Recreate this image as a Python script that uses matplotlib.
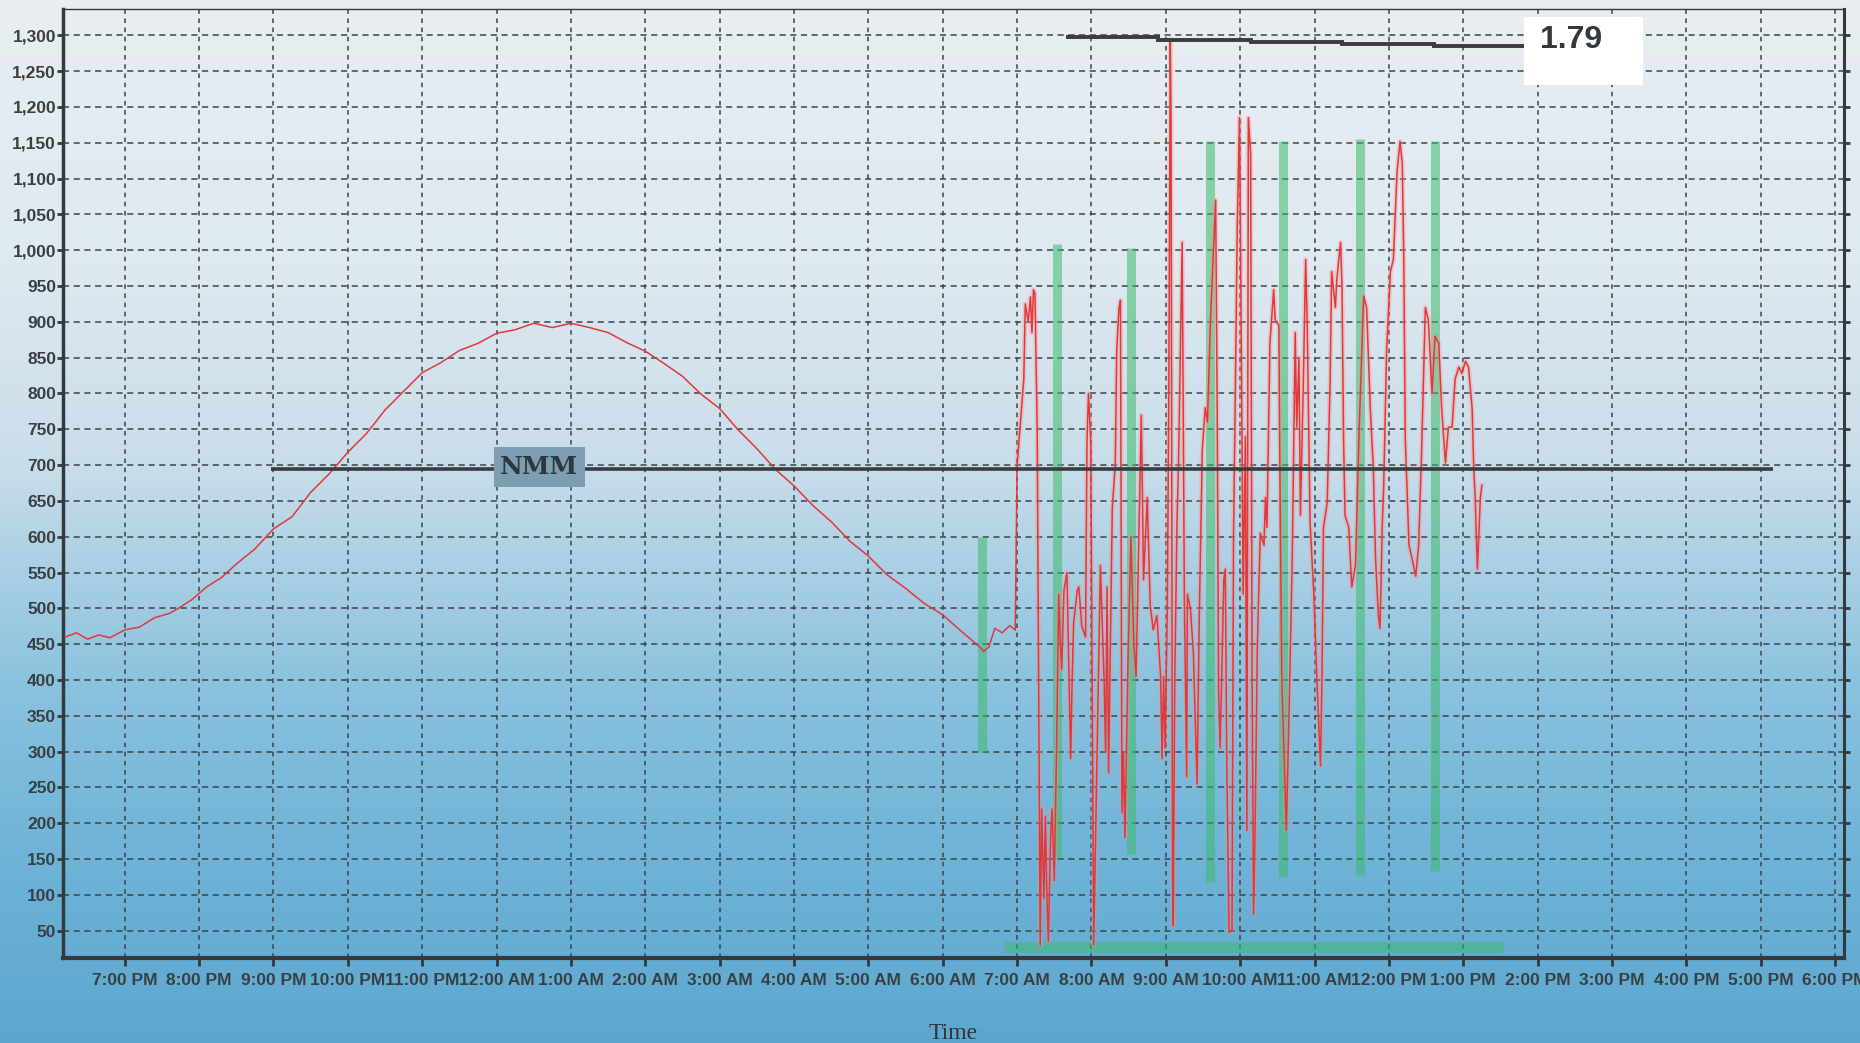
import matplotlib
matplotlib.use("Agg")
import matplotlib.pyplot as plt
import numpy as np
from matplotlib.colors import LinearSegmentedColormap
from matplotlib.patches import Rectangle
from matplotlib.ticker import FuncFormatter

# x values are hours after 7:00 PM
tick_hours = list(range(24))
tick_labels = ["7:00 PM", "8:00 PM", "9:00 PM", "10:00 PM", "11:00 PM", "12:00 AM",
               "1:00 AM", "2:00 AM", "3:00 AM", "4:00 AM", "5:00 AM", "6:00 AM",
               "7:00 AM", "8:00 AM", "9:00 AM", "10:00 AM", "11:00 AM", "12:00 PM",
               "1:00 PM", "2:00 PM", "3:00 PM", "4:00 PM", "5:00 PM", "6:00 PM"]
y_ticks = list(range(50, 1301, 50))

# overnight smooth trace
night_hours = [-0.80, -0.65, -0.50, -0.35, -0.20, 0.00, 0.20, 0.40, 0.60, 0.72, 0.90,
               1.10, 1.30, 1.50, 1.75, 2.00, 2.25, 2.50, 2.75, 3.00, 3.25, 3.50,
               3.75, 4.00, 4.25, 4.50, 4.75, 5.00, 5.25, 5.50, 5.75, 6.00, 6.25,
               6.50, 6.75, 7.00, 7.25, 7.50, 7.75, 8.00, 8.25, 8.50, 8.75, 9.00,
               9.25, 9.50, 9.75, 10.00, 10.25, 10.50, 10.75, 11.00, 11.25, 11.50,
               11.55, 11.62, 11.70, 11.80, 11.90, 11.975]
night_values = [460, 466, 457, 463, 459, 470, 474, 487, 493, 500, 512,
                530, 543, 562, 583, 611, 628, 662, 688, 718, 744, 777,
                803, 829, 843, 860, 870, 884, 889, 898, 892, 898, 892,
                885, 871, 859, 842, 824, 799, 779, 749, 723, 694, 671,
                644, 621, 594, 573, 547, 528, 507, 491, 468, 446,
                440, 446, 472, 466, 476, 470]

# daytime volatile trace
day_hours = [12.00, 12.09, 12.11, 12.15, 12.18, 12.20, 12.22, 12.24, 12.27, 12.29,
             12.31, 12.33, 12.36, 12.38, 12.40, 12.42, 12.45, 12.47, 12.50, 12.53,
             12.56, 12.58, 12.60, 12.63, 12.67, 12.69, 12.72, 12.74, 12.76, 12.81,
             12.83, 12.87, 12.92, 12.94, 12.96, 12.99, 13.01, 13.03, 13.08, 13.12,
             13.17, 13.19, 13.21, 13.23, 13.28, 13.32, 13.34, 13.37, 13.39, 13.41,
             13.43, 13.45, 13.49, 13.53, 13.57, 13.60, 13.63, 13.67, 13.68, 13.70,
             13.75, 13.79, 13.83, 13.88, 13.93, 13.95, 13.97, 13.99, 14.02, 14.04,
             14.06, 14.07, 14.09, 14.10, 14.12, 14.15, 14.17, 14.22, 14.25, 14.28,
             14.29, 14.33, 14.37, 14.42, 14.45, 14.49, 14.53, 14.56, 14.60, 14.64,
             14.67, 14.69, 14.71, 14.73, 14.78, 14.80, 14.82, 14.85, 14.89, 14.91,
             14.93, 14.96, 14.99, 15.00, 15.04, 15.07, 15.09, 15.11, 15.14, 15.16,
             15.18, 15.20, 15.23, 15.27, 15.32, 15.34, 15.36, 15.40, 15.45, 15.47,
             15.52, 15.53, 15.56, 15.62, 15.65, 15.70, 15.74, 15.76, 15.79, 15.81,
             15.85, 15.88, 15.90, 15.94, 15.99, 16.03, 16.08, 16.10, 16.12, 16.17,
             16.21, 16.23, 16.28, 16.30, 16.35, 16.37, 16.39, 16.41, 16.46, 16.50,
             16.55, 16.60, 16.66, 16.70, 16.75, 16.79, 16.82, 16.86, 16.88, 16.91,
             16.93, 16.97, 17.02, 17.06, 17.11, 17.15, 17.18, 17.20, 17.22, 17.27,
             17.31, 17.36, 17.40, 17.44, 17.49, 17.53, 17.58, 17.62, 17.67, 17.71,
             17.76, 17.80, 17.85, 17.89, 17.94, 17.98, 18.03, 18.07, 18.12, 18.14,
             18.16, 18.19, 18.21, 18.23, 18.25]
day_values = [700, 820, 925, 900, 935, 885, 945, 940, 750, 400,
              30, 220, 95, 210, 100, 35, 180, 220, 120, 300,
              520, 455, 415, 525, 550, 445, 290, 400, 480, 525,
              530, 475, 460, 735, 800, 735, 390, 30, 320, 560,
              400, 300, 530, 270, 640, 700, 860, 920, 930, 215,
              300, 180, 420, 600, 450, 405, 560, 770, 700, 540,
              655, 505, 470, 490, 405, 290, 405, 305, 500, 800,
              1295, 1180, 130, 57, 400, 620, 700, 1011, 505, 265,
              520, 500, 440, 255, 490, 720, 780, 760, 900, 1000,
              1070, 787, 380, 305, 540, 555, 280, 48, 50, 600,
              760, 1028, 1185, 1070, 520, 740, 190, 1185, 1135, 405,
              73, 190, 445, 605, 588, 655, 613, 870, 945, 903,
              895, 737, 400, 190, 320, 570, 885, 753, 850, 630,
              820, 987, 903, 620, 520, 405, 280, 405, 613, 647,
              820, 970, 920, 960, 1011, 945, 737, 630, 613, 530,
              560, 750, 936, 920, 778, 697, 570, 488, 472, 613,
              672, 862, 970, 987, 1110, 1152, 1120, 987, 737, 588,
              570, 545, 588, 720, 920, 903, 800, 880, 870, 778,
              703, 753, 753, 820, 837, 828, 845, 837, 778, 697,
              655, 555, 605, 655, 672]

# green markers
green_hours = [11.53, 12.54, 13.53, 14.59, 15.58, 16.61, 17.62]
green_low = [300, 152, 157, 118, 125, 128, 133]
green_high = [600, 1008, 1003, 1152, 1152, 1155, 1152]
green_base_value = 28
green_base_span = [11.82, 18.53]

# NMM reference line
nmm_value = 695
nmm_span = [1.96, 22.17]

# stepped line labelled 1.79
ratio_edges = [12.66, 13.89, 15.15, 16.37, 17.61, 18.83]
ratio_levels = [1297, 1294, 1291, 1288, 1285]
ratio_label = "1.79"

fig = plt.figure(figsize=(18.6, 10.43), dpi=100)

# background gradient
bg = fig.add_axes([0, 0, 1, 1], zorder=-10)
cmap = LinearSegmentedColormap.from_list("bg", [
    (0.0, "#e8eef2"), (0.25, "#dfe9f0"), (0.45, "#c8ddea"), (0.55, "#a9cfe4"),
    (0.65, "#8cc3df"), (0.8, "#72b5d8"), (1.0, "#5ca7cf")])
bg.imshow(np.linspace(0, 1, 256).reshape(-1, 1), aspect="auto", cmap=cmap,
          extent=[0, 1, 1, 0])
bg.axis("off")

ax = fig.add_axes([0.0339, 0.0815, 0.9575, 0.9094])
ax.set_facecolor("none")
ax.set_xlim(-0.83, 23.12)
ax.set_ylim(12, 1336)

dark = "#333a3e"
ax.set_xticks(tick_hours)
ax.set_xticklabels(tick_labels)
ax.set_yticks(y_ticks)
ax.yaxis.set_major_formatter(FuncFormatter(lambda v, p: f"{v:,.0f}"))
for lab in ax.get_xticklabels() + ax.get_yticklabels():
    lab.set_fontfamily("Liberation Sans")
    lab.set_fontweight("bold")
    lab.set_fontsize(12.5)
    lab.set_color("#3a3f42")
ax.tick_params(axis="x", length=6, width=2, color=dark, pad=5)
ax.tick_params(axis="y", length=4, width=2, color=dark, pad=1)
ax.tick_params(axis="y", which="major", right=True, labelright=False)

ax.set_axisbelow(True)
ax.grid(axis="y", color="#3c4448", linestyle=(0, (4, 3)), linewidth=1.1)
ax.grid(axis="x", color="#3c4448", linestyle=(0, (3, 3)), linewidth=1.1)

ax.spines["left"].set_linewidth(2.5)
ax.spines["bottom"].set_linewidth(3)
ax.spines["right"].set_linewidth(2.2)
ax.spines["top"].set_linewidth(1.0)
for s in ax.spines.values():
    s.set_color(dark)

# green markers
ax.vlines(green_hours, green_low, green_high, color="#3dbb6a", alpha=0.55,
          linewidth=6.5, zorder=2)
ax.hlines(green_base_value, green_base_span[0], green_base_span[1],
          color="#3dbb6a", alpha=0.5, linewidth=8, zorder=2)

# red trace
ax.plot(night_hours, night_values, color="#e0393b", linewidth=1.1, zorder=3)
ax.plot(day_hours, day_values, color="#ff8c8c", linewidth=3.5, alpha=0.35, zorder=3)
ax.plot([night_hours[-1]] + day_hours, [night_values[-1]] + day_values,
        color="#e0393b", linewidth=1.1, zorder=4)

# NMM line and label
ax.hlines(nmm_value, nmm_span[0], nmm_span[1], color="#3a3d40", linewidth=2.6, zorder=5)
ax.add_patch(Rectangle((4.96, 669), 1.23, 56, facecolor="#7d9db2", edgecolor="none",
                       zorder=6))
ax.text(5.57, 697, "NMM", ha="center", va="center", fontsize=18, fontweight="bold",
        family="DejaVu Serif", color="#2e373c", zorder=7)

# stepped 1.79 line and label box
ax.stairs(ratio_levels, ratio_edges, baseline=None, color="#3a3d40", linewidth=2.8,
          zorder=5)
ax.add_patch(Rectangle((18.82, 1231), 1.6, 95, facecolor="white", edgecolor="none",
                       zorder=6, clip_on=False))
ax.text(19.45, 1293, ratio_label, ha="center", va="center", fontsize=23,
        fontweight="bold", family="Liberation Sans", color="#33393c", zorder=7)

ax.set_xlabel("Time", family="Liberation Serif", fontsize=17, color="#333",
              labelpad=25)

fig.savefig("out.png", dpi=100)
